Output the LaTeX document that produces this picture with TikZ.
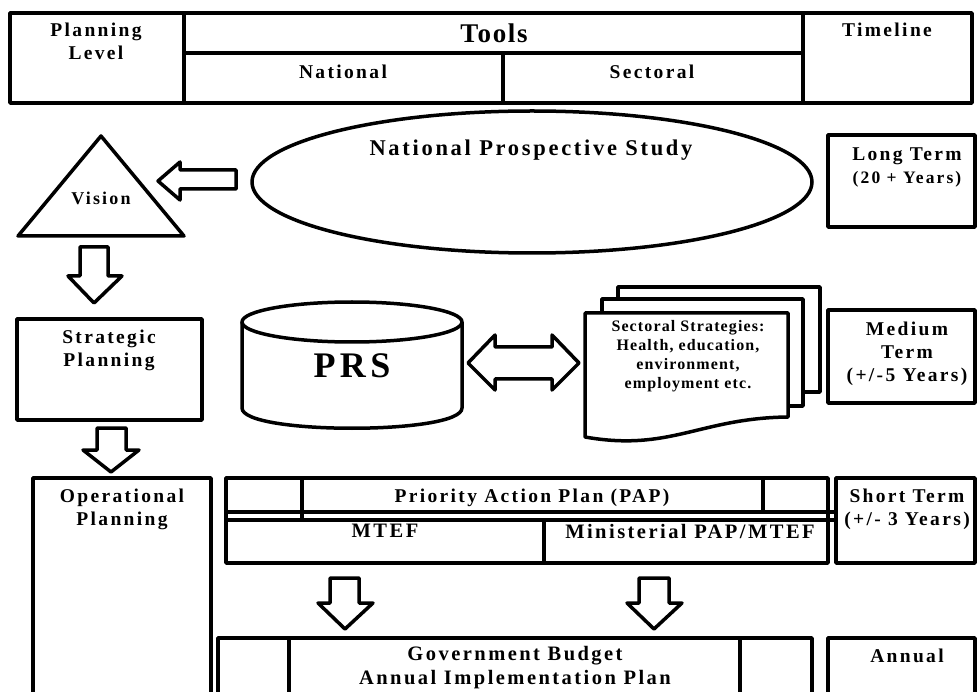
\documentclass[tikz,border=0pt]{standalone}
\usepackage{fontspec}
\setmainfont{Liberation Serif}[LetterSpace=12]
\begin{document}
\begin{tikzpicture}[x=1pt,y=-1pt,
  ln/.style={line width=3.5pt,line join=round},
  lbl/.style={font=\bfseries\fontsize{19.5}{23}\selectfont,align=center,inner sep=0pt},
  small/.style={font=\bfseries\fontsize{16}{19}\selectfont\addfontfeatures{LetterSpace=7},align=center,inner sep=0pt},
  page/.style={ln,fill=white}]
\useasboundingbox (0,0) rectangle (977,692);
\clip (0,0) rectangle (977,692);
% header table
\draw[ln] (10,13) rectangle (972,103);
\draw[ln] (184,13) -- (184,103);
\draw[ln] (803,13) -- (803,103);
\draw[ln] (184,53) -- (803,53);
\draw[ln] (503,53) -- (503,103);
\node[lbl] (plev) at (96,41.5) {Planning\\Level};
\node[lbl,font=\bfseries\fontsize{27}{30}\selectfont\addfontfeatures{LetterSpace=6}] (tools) at (494,33) {Tools};
\node[lbl] (nat) at (343,72) {National};
\node[lbl] (sec) at (652,72) {Sectoral};
\node[lbl] (tl) at (887,30) {Timeline};
% vision row
\draw[ln] (101,136) -- (18,236) -- (184,236) -- cycle;
\node[lbl,font=\bfseries\fontsize{18}{20}\selectfont] (vis) at (101,198) {Vision};
\draw[ln] (532,182) ellipse [x radius=280, y radius=71];
\node[lbl,font=\bfseries\fontsize{22.5}{26}\selectfont] (nps) at (531,150) {National Prospective Study};
\draw[ln] (158,181) -- (180,162) -- (180,170) -- (236,170) -- (236,189) -- (180,189) -- (180,200) -- cycle;
\draw[ln] (828,135) rectangle (975,227);
\node[lbl] (lt) at (907,167) {Long Term\\{\fontsize{17.5}{23}\selectfont(20 + Years)}};
\draw[ln] (80,247) -- (108,247) -- (108,276) -- (122,276) -- (94,303) -- (68,276) -- (80,276) -- cycle;
% strategic row
\draw[ln] (17,319) rectangle (202,420);
\node[lbl] (sp) at (109,350) {Strategic\\Planning};
\draw[ln] (242,322) -- (242,408) .. controls (242,435) and (462,435) .. (462,408) -- (462,322);
\draw[ln] (352,322) ellipse [x radius=110, y radius=20];
\node[lbl,font=\bfseries\fontsize{36}{40}\selectfont] (prs) at (352,366) {PRS};
\draw[ln] (468,363) -- (495,335) -- (495,347) -- (552,347) -- (552,335) -- (579,363) -- (552,390) -- (552,379) -- (495,379) -- (495,390) -- cycle;
\draw[page] (618,299) -- (618,287) -- (820,287) -- (820,392) -- (803,392);
\draw[page] (602,313) -- (602,299) -- (803,299) -- (803,406) -- (788,406);
\draw[page] (585,313) -- (788,313) -- (788,417) .. controls (700,418) and (670,452) .. (585,437) -- cycle;
\node[small] (ss) at (688,356) {Sectoral Strategies:\\Health, education,\\environment,\\employment etc.};
\draw[ln] (828,310) rectangle (975,403);
\node[lbl] (mt) at (907,354) {Medium\\Term\\(+/-5 Years)};
\draw[ln] (97,428) -- (126,428) -- (126,450) -- (139,450) -- (111,472) -- (83,450) -- (97,450) -- cycle;
% operational row
\draw[ln] (33,478) rectangle (211,700);
\node[lbl] (op) at (122,509) {Operational\\Planning};
\draw[ln] (226,478) rectangle (828,563);
\draw[ln] (836,478) rectangle (975,563);
\draw[ln] (226,512) -- (836,512);
\draw[ln] (226,520) -- (836,520);
\draw[ln] (302,478) -- (302,520);
\draw[ln] (763,478) -- (763,512);
\draw[ln] (544,520) -- (544,563);
\node[lbl] (pap) at (532,498) {Priority Action Plan (PAP)};
\node[lbl,font=\bfseries\fontsize{20.5}{23}\selectfont] (mtef) at (385,531) {MTEF};
\node[lbl,font=\bfseries\fontsize{20.5}{23}\selectfont] (mpap) at (690,531) {Ministerial PAP/MTEF};
\node[lbl] (st) at (907,509) {Short Term\\(+/- 3 Years)};
\draw[ln] (330,578) -- (359,578) -- (359,603) -- (373,603) -- (345,629) -- (318,603) -- (330,603) -- cycle;
\draw[ln] (639,578) -- (669,578) -- (669,603) -- (682,603) -- (654,629) -- (627,603) -- (639,603) -- cycle;
% budget row
\draw[ln] (218,638) rectangle (812,700);
\draw[ln] (289,638) -- (289,700);
\draw[ln] (740,638) -- (740,700);
\node[lbl,font=\bfseries\fontsize{20.5}{24}\selectfont] (gb) at (515,668) {Government Budget\\Annual Implementation Plan};
\draw[ln] (828,638) rectangle (975,700);
\node[lbl] (ann) at (907,656) {Annual};
\end{tikzpicture}
\end{document}
